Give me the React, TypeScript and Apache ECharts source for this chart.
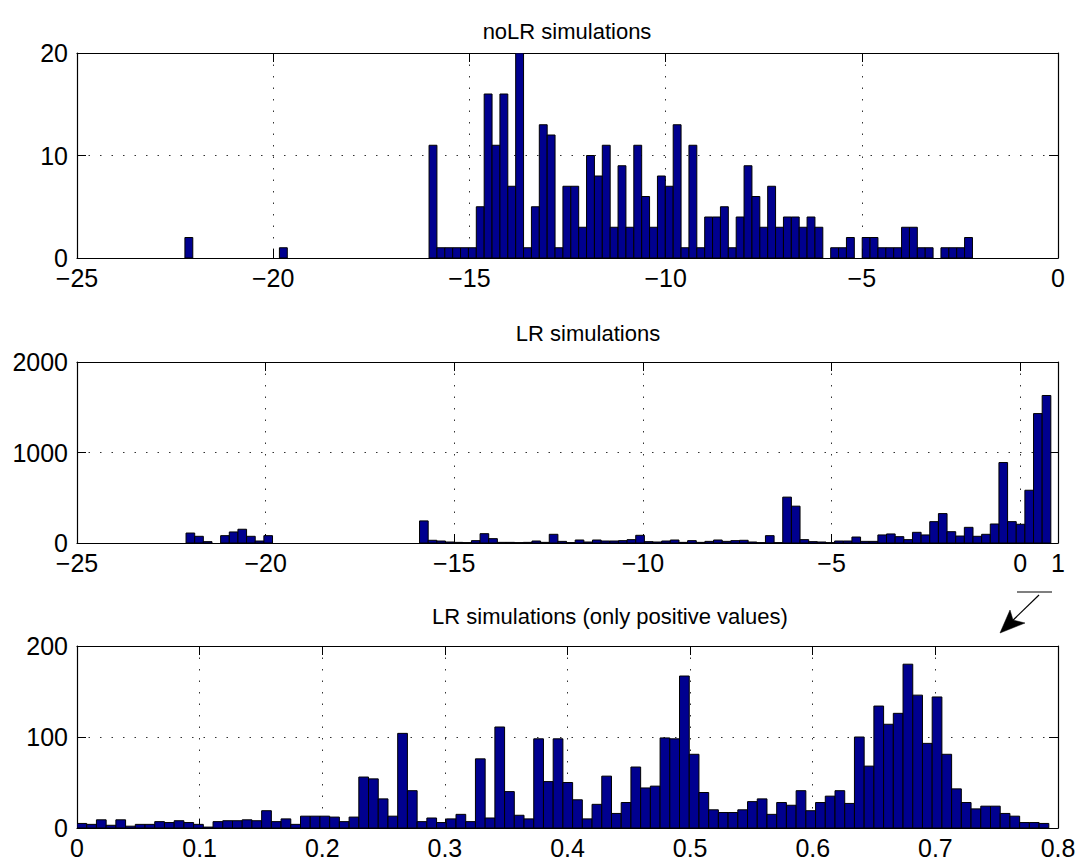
import React, { useEffect, useRef } from "react";
import * as echarts from "echarts";

// ---------- DATA ----------
const titles = ["noLR simulations", "LR simulations", "LR simulations (only positive values)"];

// noLR histogram: 100 bins between these limits
const noLRRange = [-22.25, -2.18];
const noLRCounts = [
  2, 0, 0, 0, 0, 0, 0, 0, 0, 0, 0, 0, 1, 0, 0, 0, 0, 0, 0, 0,
  0, 0, 0, 0, 0, 0, 0, 0, 0, 0, 0, 11, 1, 1, 1, 1, 1, 5, 16, 11,
  16, 7, 20, 1, 5, 13, 12, 1, 7, 7, 3, 10, 8, 11, 3, 9, 3, 11, 6, 3,
  8, 7, 13, 1, 11, 1, 4, 4, 5, 1, 4, 9, 6, 3, 7, 3, 4, 4, 3, 4,
  3, 0, 1, 1, 2, 0, 2, 2, 1, 1, 1, 3, 3, 1, 1, 0, 1, 1, 1, 2,
];

// LR histogram: 100 bins
const lrRange = [-22.11, 0.81];
const lrCounts = [
  110, 74, 15, 0, 81, 122, 152, 74, 22, 81, 0, 0, 0, 0, 0, 0, 0, 0, 0, 0,
  0, 0, 0, 0, 0, 0, 0, 244, 30, 22, 11, 7, 4, 26, 103, 48, 7, 7, 4, 7,
  22, 7, 96, 18, 4, 33, 11, 33, 22, 22, 26, 37, 85, 15, 11, 22, 33, 7, 26, 7,
  18, 33, 18, 26, 30, 11, 4, 81, 4, 507, 407, 37, 15, 11, 4, 22, 22, 66, 18, 18,
  89, 100, 70, 37, 118, 89, 236, 325, 125, 77, 173, 74, 96, 210, 889, 236, 207, 583, 1430, 1630,
];

// LR positive-only histogram: 100 bins
const posRange = [0, 0.7925];
const posCounts = [
  5, 4, 9, 3, 9, 2, 4, 4, 7, 6, 8, 6, 4, 1, 7, 8, 8, 9, 8, 19,
  7, 10, 4, 13, 13, 13, 12, 7, 12, 56, 54, 32, 13, 104, 41, 7, 11, 6, 10, 15,
  7, 76, 11, 111, 40, 14, 10, 98, 51, 98, 50, 31, 10, 26, 57, 16, 28, 67, 44, 46,
  99, 98, 167, 81, 39, 20, 17, 17, 20, 29, 32, 15, 28, 25, 41, 19, 28, 35, 41, 27,
  100, 68, 134, 114, 126, 180, 146, 93, 144, 81, 43, 28, 21, 24, 24, 16, 13, 6, 6, 5,
];

// axes
const xAxes = [
  { min: -25, max: 0, interval: 5, ticks: [-25, -20, -15, -10, -5, 0] },
  { min: -25, max: 1, interval: 5, ticks: [-25, -20, -15, -10, -5, 0, 1] },
  { min: 0, max: 0.8, interval: 0.1, ticks: [0, 0.1, 0.2, 0.3, 0.4, 0.5, 0.6, 0.7, 0.8] },
];
const yAxes = [
  { min: 0, max: 20, interval: 10 },
  { min: 0, max: 2000, interval: 1000 },
  { min: 0, max: 200, interval: 100 },
];

// ---------- LAYOUT ----------
const FONT = "'Liberation Sans', Arial, Helvetica, sans-serif";
const FS = 25;
const TFS = 22;
const grids = [
  { left: 77, top: 53, width: 981, height: 205 },
  { left: 77, top: 362, width: 981, height: 181 },
  { left: 77, top: 646, width: 981, height: 182 },
];
const titleX = [567, 588, 610];
const titleY = [31, 333, 616];

function binData(range: number[], counts: number[]) {
  const n = counts.length;
  const w = (range[1] - range[0]) / n;
  return counts.map((c, i) => [range[0] + i * w, range[0] + (i + 1) * w, c]);
}

const fmt = (v: number) => {
  const s = String(Math.round(v * 1000) / 1000);
  return s.replace("-", "\u2212");
};

export default function App() {
  const ref = useRef<HTMLDivElement>(null);
  useEffect(() => {
    if (!ref.current) return;
    const chart = echarts.init(ref.current, null, { renderer: "svg" });
    const gridLine = { show: true, lineStyle: { color: "#333", width: 1, type: [1.5, 10] as any } };
    const xAxisArr: any[] = [];
    const yAxisArr: any[] = [];
    xAxes.forEach((ax, k) => {
      const custom = k === 1;
      const lbl: any = { show: true, color: "#000", fontSize: FS, fontFamily: FONT, margin: 7, formatter: fmt, showMinLabel: true, showMaxLabel: true, hideOverlap: false };
      if (custom) lbl.customValues = ax.ticks;
      const tick: any = { show: true, inside: true, length: 9, lineStyle: { color: "#000" } };
      if (custom) tick.customValues = ax.ticks;
      xAxisArr.push({
        type: "value",
        gridIndex: k,
        position: "bottom",
        min: ax.min,
        max: ax.max,
        interval: ax.interval,
        axisLine: { show: true, onZero: false, lineStyle: { color: "#000", width: 1.2 } },
        axisTick: tick,
        axisLabel: lbl,
        splitLine: gridLine,
      });
      xAxisArr.push({
        type: "value",
        gridIndex: k,
        position: "top",
        min: ax.min,
        max: ax.max,
        interval: ax.interval,
        axisLine: { show: true, onZero: false, lineStyle: { color: "#000", width: 1.2 } },
        axisTick: { show: true, inside: true, length: 9, lineStyle: { color: "#000" } },
        axisLabel: { show: false },
        splitLine: { show: false },
      });
    });
    yAxes.forEach((ax, k) => {
      yAxisArr.push({
        type: "value",
        gridIndex: k,
        position: "left",
        min: ax.min,
        max: ax.max,
        interval: ax.interval,
        axisLine: { show: true, onZero: false, lineStyle: { color: "#000", width: 1.2 } },
        axisTick: { show: true, inside: true, length: 9, lineStyle: { color: "#000" } },
        axisLabel: { show: true, color: "#000", fontSize: FS, fontFamily: FONT, margin: 9, formatter: fmt },
        splitLine: gridLine,
      });
      yAxisArr.push({
        type: "value",
        gridIndex: k,
        position: "right",
        min: ax.min,
        max: ax.max,
        interval: ax.interval,
        axisLine: { show: true, onZero: false, lineStyle: { color: "#000", width: 1.2 } },
        axisTick: { show: true, inside: true, length: 9, lineStyle: { color: "#000" } },
        axisLabel: { show: false },
        splitLine: { show: false },
      });
    });

    const datasets = [
      binData(noLRRange, noLRCounts),
      binData(lrRange, lrCounts),
      binData(posRange, posCounts),
    ];

    const series = datasets.map((d, k) => ({
      type: "custom",
      xAxisIndex: 2 * k,
      yAxisIndex: 2 * k,
      data: d,
      encode: { x: [0, 1], y: 2 },
      clip: true,
      renderItem: (params: any, api: any) => {
        const x0 = api.value(0);
        const x1 = api.value(1);
        const y = api.value(2);
        if (!y) return null;
        const p0 = api.coord([x0, y]);
        const p1 = api.coord([x1, 0]);
        return {
          type: "rect",
          shape: { x: p0[0], y: p0[1], width: p1[0] - p0[0], height: p1[1] - p0[1] },
          style: { fill: "#00008F", stroke: "#000", lineWidth: 1 },
        };
      },
      z: 1,
    }));

    const graphic: any[] = titles.map((t, k) => ({
      type: "text",
      x: titleX[k],
      y: titleY[k],
      style: {
        text: t,
        fill: "#000",
        font: `${TFS}px ${FONT}`,
        textAlign: "center",
        textVerticalAlign: "middle",
      },
    }));
    // zoom annotation: bar over the 0..1 range and an arrow pointing down to the third panel
    graphic.push({
      type: "line",
      shape: { x1: 1017, y1: 592, x2: 1052, y2: 592 },
      style: { stroke: "#000", lineWidth: 1.2 },
    });
    graphic.push({
      type: "line",
      shape: { x1: 1039, y1: 595, x2: 1009, y2: 624 },
      style: { stroke: "#000", lineWidth: 1.2 },
    });
    graphic.push({
      type: "polygon",
      shape: { points: [[1000, 633], [1010, 610], [1013, 620], [1025, 623]] },
      style: { fill: "#000", stroke: "#000", lineWidth: 0.5 },
    });

    chart.setOption({
      animation: false,
      backgroundColor: "#fff",
      grid: grids.map((g) => ({ ...g, containLabel: false })),
      xAxis: xAxisArr,
      yAxis: yAxisArr,
      series,
      graphic,
    });
    return () => chart.dispose();
  }, []);
  return (
    <div
      ref={ref}
      style={{ position: "absolute", left: 0, top: 0, width: 1083, height: 866, background: "#fff" }}
    />
  );
}
